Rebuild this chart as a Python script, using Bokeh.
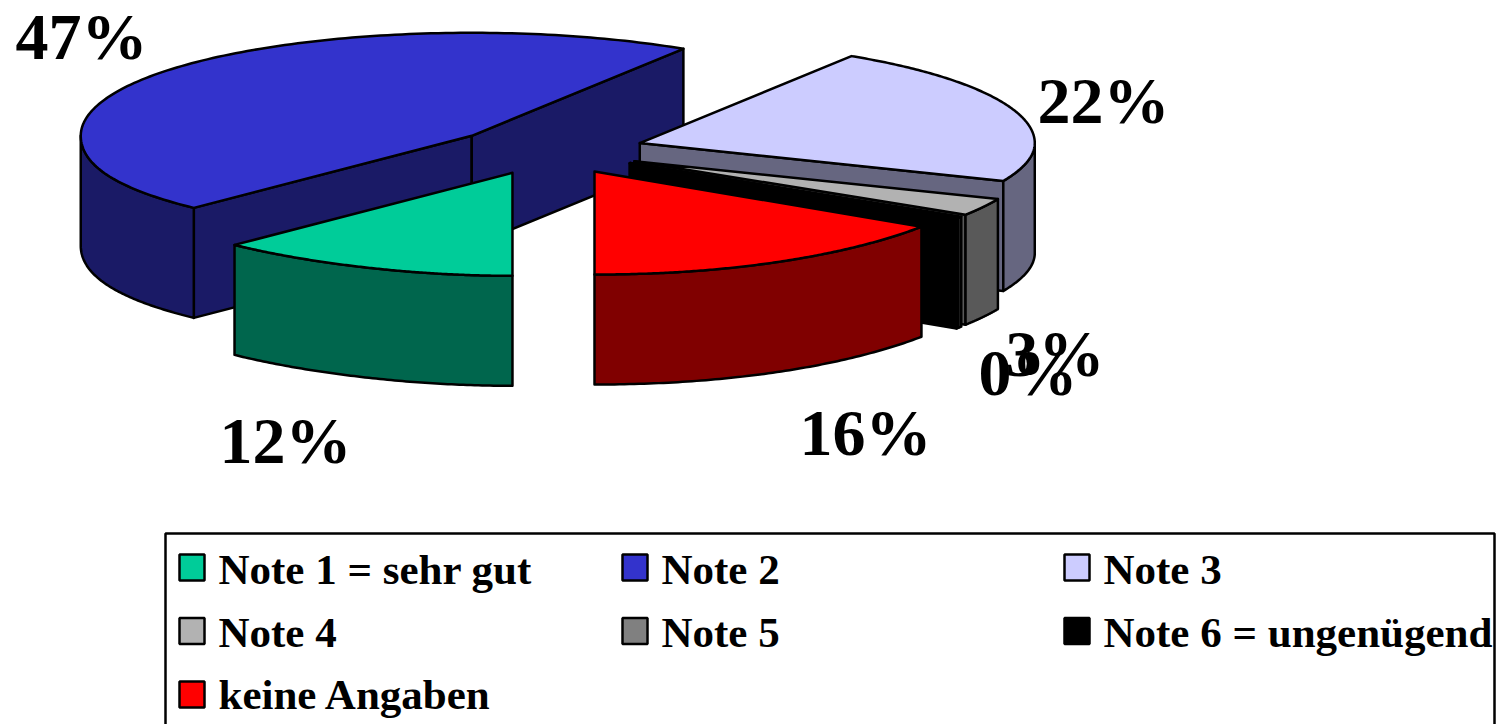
import numpy as np
from bokeh.plotting import figure
from bokeh.models import Range1d
from bokeh.core.properties import value
from bokeh.embed import file_html
from bokeh.resources import INLINE

categories = ["Note 1 = sehr gut", "Note 2", "Note 3", "Note 4", "Note 5", "Note 6 = ungenügend", "keine Angaben"]
shares = [12, 47, 22, 2.7, 0.2, 0.1, 16]
labels = ["12%", "47%", "22%", "3%", "", "0%", "16%"]
top_colors = ["#00CC99", "#3333CC", "#CCCCFF", "#B2B2B2", "#808080", "#000000", "#FF0000"]
side_colors = ["#00664D", "#1A1A66", "#666680", "#595959", "#808080", "#000000", "#800000"]

# layout of the drawing (reference pixels)
CX, CY = 547.5, 150.0
A, B = 395.0, 103.0
EX, EY = 96.5, 24.0
DEPTH = 110.0
DRAW_ORDER = [1, 2, 3, 4, 5, 0, 6]
LABEL_SIZE = 66
LEGEND_SIZE = 43
MID = 0.34  # distance baseline - em middle, in em
LABEL_POS = {0: (219, 462), 1: (15, 58), 2: (1037, 122), 3: (1005, 375), 5: (978, 394), 6: (799, 454)}
FONT = value("Liberation Serif")

p = figure(width=1497, height=724, output_backend="svg", toolbar_location=None,
           x_range=Range1d(0, 1497), y_range=Range1d(724, 0), min_border=0)
p.axis.visible = False
p.grid.visible = False
p.outline_line_color = None
p.background_fill_color = "white"

def rim(th):
    th = np.asarray(th, dtype=float)
    s, c = np.sin(th), np.cos(th)
    # slight perspective of the original 3-D pie
    x = -A * s - 8 * np.sin(2 * th) ** 2 * (c > 0) + 4 * np.clip(s, 0, 1) ** 6
    y = B * c - 3 * np.sin(2 * th) ** 2 * ((c > 0) & (s > 0))
    return x, y

edges = np.radians(np.concatenate([[0], np.cumsum(shares)]) / sum(shares) * 360)

def draw(xs, ys, color):
    p.patch(xs, ys, fill_color=color, line_color="black", line_width=2.5, line_join="round")

for i in DRAW_ORDER:
    t1, t2 = edges[i], edges[i + 1]
    mid = (t1 + t2) / 2
    ax = CX - EX * np.sin(mid)
    ay = CY + EY * np.cos(mid)
    # radial faces
    for th, visible in ((t1, np.sin(t1) > 1e-6), (t2, np.sin(t2) < -1e-6)):
        if visible:
            rx, ry = rim(th)
            draw([ax, ax + rx, ax + rx, ax], [ay, ay + ry, ay + ry + DEPTH, ay + DEPTH], side_colors[i])
    # outer faces (front half only)
    for lo, hi in ((0, np.pi / 2), (1.5 * np.pi, 2 * np.pi)):
        a, b = max(t1, lo), min(t2, hi)
        if b > a:
            th = np.linspace(a, b, 80)
            rx, ry = rim(th)
            xs = ax + rx
            ys = ay + ry
            draw(np.concatenate([xs, xs[::-1]]), np.concatenate([ys, ys[::-1] + DEPTH]), side_colors[i])
    # top
    th = np.linspace(t1, t2, 160)
    rx, ry = rim(th)
    draw(np.concatenate([[ax], ax + rx]), np.concatenate([[ay], ay + ry]), top_colors[i])

for i, (x, y) in LABEL_POS.items():
    p.text([x], [y - MID * LABEL_SIZE], text=[labels[i]], text_font=FONT, text_font_style="bold",
           text_font_size=f"{LABEL_SIZE}px", text_color="black", text_baseline="middle", text_align="left")

# legend
p.quad(left=[165], right=[1494], top=[533], bottom=[780], fill_color="white", line_color="black", line_width=2.5)
col_x = [179, 622, 1064]
row_y = [567, 630.5, 694]
base_y = [583, 646, 708]
for i, name in enumerate(categories):
    x0 = col_x[i % 3]
    y0 = row_y[i // 3]
    p.quad(left=[x0], right=[x0 + 25], top=[y0 - 13], bottom=[y0 + 13], fill_color=top_colors[i],
           line_color="black", line_width=2.5)
    p.text([x0 + 39], [base_y[i // 3] - 0.32 * LEGEND_SIZE], text=[name], text_font=FONT, text_font_style="bold",
           text_font_size=f"{LEGEND_SIZE}px", text_color="black", text_baseline="middle", text_align="left")

open("out.html", "w").write(file_html(p, INLINE))
